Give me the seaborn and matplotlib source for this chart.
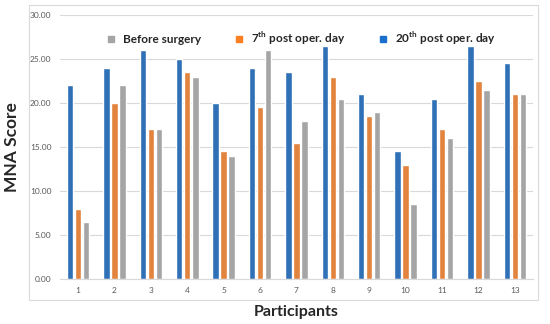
import pandas as pd
import numpy as np
import seaborn as sns
import matplotlib.pyplot as plt
from matplotlib.patches import Rectangle
from matplotlib.lines import Line2D

participants = [str(i) for i in range(1, 14)]
day20 = [22, 24, 26, 25, 20, 24, 23.5, 26.5, 21, 14.5, 20.5, 26.5, 24.5]
day7 = [8, 20, 17, 23.5, 14.5, 19.5, 15.5, 23, 18.5, 13, 17, 22.5, 21]
before = [6.5, 22, 17, 23, 14, 26, 18, 20.5, 19, 8.5, 16, 21.5, 21]

series = ['20th', '7th', 'Before']
labels = {'Before': 'Before surgery',
          '7th': r'7$^{\mathbf{th}}$ post oper. day',
          '20th': r'20$^{\mathbf{th}}$ post oper. day'}
colors = {'20th': '#1a6fcc', '7th': '#fd7f23', 'Before': '#a5a5a5'}

df = pd.DataFrame({'Participant': participants * 3,
                   'Score': day20 + day7 + before,
                   'Series': ['20th'] * 13 + ['7th'] * 13 + ['Before'] * 13})

sns.set_style('white')
plt.rcParams['font.family'] = ['Lato', 'DejaVu Sans']
plt.rcParams['mathtext.fontset'] = 'custom'
plt.rcParams['mathtext.bf'] = 'Lato:bold'

fig = plt.figure(figsize=(5.5, 3.24), dpi=100)
ax = fig.add_axes([0.109, 0.139, 0.86, 0.815])
fig.patches.append(Rectangle((0.053, 0.074), 0.925, 0.911, transform=fig.transFigure,
                             fill=False, edgecolor='#d9d9d9', linewidth=0.8))

sns.barplot(data=df, x='Participant', y='Score', hue='Series', hue_order=series,
            palette=colors, width=0.66, gap=0.2, ax=ax, legend=False)

ax.set_ylim(0, 30)
ax.set_yticks(np.arange(0, 30.1, 5))
ax.set_yticklabels([f'{v:.2f}' for v in np.arange(0, 30.1, 5)])
ax.yaxis.grid(True, color='#d9d9d9', linewidth=0.8)
ax.set_axisbelow(True)
for s in ['top', 'right', 'left']:
    ax.spines[s].set_visible(False)
ax.spines['bottom'].set_color('#d9d9d9')
ax.tick_params(axis='both', length=0, labelsize=6, labelcolor='#595959', pad=6)

ax.set_xlabel('Participants', fontsize=11.5, fontweight='bold', labelpad=8)
ax.set_ylabel('MNA Score', fontsize=12.5, fontweight='bold')
ax.yaxis.set_label_coords(-0.084, 0.5)

handles = [Line2D([], [], marker='s', linestyle='', markersize=4, color=colors[k]) for k in ['Before', '7th', '20th']]
ax.legend(handles, [labels[k] for k in ['Before', '7th', '20th']], ncol=3, frameon=False,
          loc='upper center', bbox_to_anchor=(0.51, 0.985), prop={'weight': 'bold', 'size': 8.5},
          columnspacing=2.8, handletextpad=0.6, handlelength=0.8)

fig.savefig('out.png', dpi=100)
